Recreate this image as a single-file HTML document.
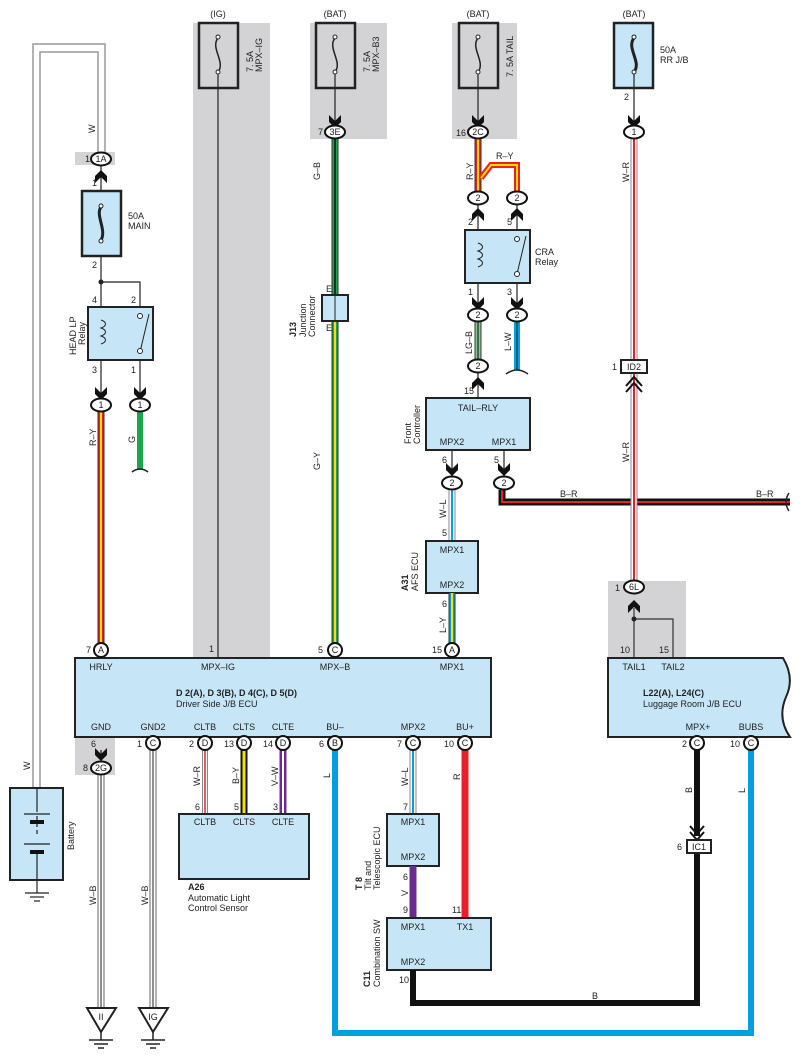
<!DOCTYPE html>
<html><head><meta charset="utf-8"><style>
html,body{margin:0;padding:0;background:#fff}
svg{display:block}
text{font-family:"Liberation Sans",sans-serif;font-size:9px;fill:#222}
.b{font-weight:bold}
</style></head><body>
<svg width="809" height="1062" viewBox="0 0 809 1062" xmlns="http://www.w3.org/2000/svg">
<defs>
<path id="ad" d="M-6,-9 L0,-3 L6,-9 L6,-2 L0,4 L-6,-2 Z" fill="#111"/>
<path id="au" d="M-6,9 L0,3 L6,9 L6,2 L0,-4 L-6,2 Z" fill="#111"/>
</defs>
<!-- gray regions -->
<rect x="193" y="23" width="77" height="635" fill="#d3d3d5"/>
<rect x="310" y="23" width="77" height="116" fill="#d3d3d5"/>
<rect x="452" y="23" width="65" height="116" fill="#d3d3d5"/>
<rect x="75" y="152" width="40" height="13" fill="#d3d3d5"/>
<rect x="75" y="737" width="40" height="38" fill="#d3d3d5"/>
<rect x="608" y="581" width="78" height="77" fill="#d3d3d5"/>

<!-- W battery wire -->
<path d="M33,788 V44 H105 V152" fill="none" stroke="#999" stroke-width="1.5"/>
<path d="M40,788 V52 H98 V152" fill="none" stroke="#999" stroke-width="1.5"/>
<text transform="translate(95,133) rotate(-90)">W</text>
<text transform="translate(30,770) rotate(-90)">W</text>

<!-- fuses top -->
<text x="218" y="17" text-anchor="middle">(IG)</text>
<text x="335" y="17" text-anchor="middle">(BAT)</text>
<text x="478" y="17" text-anchor="middle">(BAT)</text>
<text x="634" y="17" text-anchor="middle">(BAT)</text>
<g fill="none" stroke="#222" stroke-width="2.5">
<rect x="199" y="23" width="39" height="65"/>
<rect x="316" y="23" width="39" height="65"/>
<rect x="459" y="23" width="39" height="65"/>
<rect x="614" y="23" width="39" height="65" fill="#c6e6f8"/>
</g>
<g fill="none" stroke="#222" stroke-width="1.5">
<path d="M218,38 C210,48 226,62 218,72"/><path d="M335,38 C327,48 343,62 335,72"/>
<path d="M478,38 C470,48 486,62 478,72"/><path d="M634,38 C626,48 642,62 634,72" stroke-width="3"/>
</g>
<g fill="#fff" stroke="#222" stroke-width="1"><circle cx="218" cy="37" r="2"/><circle cx="218" cy="72" r="2"/><circle cx="335" cy="37" r="2"/><circle cx="335" cy="72" r="2"/><circle cx="478" cy="37" r="2"/><circle cx="478" cy="72" r="2"/><circle cx="634" cy="37" r="2"/><circle cx="634" cy="72" r="2"/></g>
<text transform="translate(253,72) rotate(-90)">7. 5A</text><text transform="translate(262,72) rotate(-90)">MPX–IG</text>
<text transform="translate(370,72) rotate(-90)">7. 5A</text><text transform="translate(379,72) rotate(-90)">MPX–B3</text>
<text transform="translate(513,77) rotate(-90)">7. 5A TAIL</text>
<text x="660" y="53">50A</text><text x="660" y="63">RR J/B</text>

<!-- IG wire -->
<line x1="218" y1="74" x2="218" y2="658" stroke="#222" stroke-width="1.2"/>
<text x="209" y="652">1</text>

<!-- B3 -->
<line x1="335" y1="74" x2="335" y2="125" stroke="#222" stroke-width="1.2"/>
<use href="#ad" x="335" y="124"/>
<line x1="335" y1="139" x2="335" y2="295" stroke="#333" stroke-width="7"/>
<line x1="335" y1="139" x2="335" y2="295" stroke="#1aa64a" stroke-width="5"/>
<line x1="335" y1="139" x2="335" y2="295" stroke="#111" stroke-width="1.5"/>
<line x1="335" y1="321" x2="335" y2="644" stroke="#333" stroke-width="7"/>
<line x1="335" y1="321" x2="335" y2="644" stroke="#1aa64a" stroke-width="5"/>
<line x1="335" y1="321" x2="335" y2="644" stroke="#f5e000" stroke-width="2"/>
<rect x="322" y="295" width="26" height="26" fill="#c6e6f8" stroke="#222" stroke-width="2"/>
<line x1="335" y1="295" x2="335" y2="321" stroke="#222"/>
<text x="326" y="292" font-size="8">E</text><text x="326" y="331" font-size="8">E</text>
<text transform="translate(320,180) rotate(-90)">G–B</text>
<text transform="translate(320,470) rotate(-90)">G–Y</text>
<text class="b" transform="translate(296,337) rotate(-90)">J13</text>
<text transform="translate(306,337) rotate(-90)">Junction</text>
<text transform="translate(315,337) rotate(-90)">Connector</text>

<!-- left main fuse / relay -->
<line x1="101" y1="166" x2="101" y2="405" stroke="#222" stroke-width="1.2"/>
<use href="#au" x="101" y="174"/>
<text x="92" y="186">1</text>
<rect x="82" y="191" width="39" height="65" fill="#c6e6f8" stroke="#222" stroke-width="2.5"/>
<path d="M101,207 C95,215 107,230 101,240" fill="none" stroke="#222" stroke-width="3"/>
<circle cx="101" cy="206" r="2" fill="#fff" stroke="#222"/><circle cx="101" cy="241" r="2" fill="#fff" stroke="#222"/>
<text x="128" y="219">50A</text><text x="128" y="229">MAIN</text>
<text x="92" y="268">2</text>
<circle cx="101" cy="282" r="2.5" fill="#222"/>
<path d="M101,282 H140 V405" fill="none" stroke="#222" stroke-width="1.2"/>
<text x="92" y="303">4</text><text x="131" y="303">2</text>
<rect x="88" y="307" width="65" height="53" fill="#c6e6f8" stroke="#222" stroke-width="2"/>
<path d="M101,320 c6,2 6,6 0,8 c6,2 6,6 0,8 c6,2 6,6 0,8" fill="none" stroke="#222"/>
<line x1="140" y1="316" x2="140" y2="352" stroke="#c6e6f8" stroke-width="3"/>
<line x1="140" y1="352" x2="149" y2="314" stroke="#222"/>
<circle cx="140" cy="316" r="2.5" fill="#fff" stroke="#222"/><circle cx="140" cy="351" r="2.5" fill="#fff" stroke="#222"/>
<text transform="translate(76,355) rotate(-90)">HEAD LP</text><text transform="translate(85,345) rotate(-90)">Relay</text>
<text x="92" y="373">3</text><text x="131" y="373">1</text>
<use href="#ad" x="101" y="396"/><use href="#ad" x="140" y="396"/>
<line x1="101" y1="412" x2="101" y2="644" stroke="#333" stroke-width="7"/>
<line x1="101" y1="412" x2="101" y2="644" stroke="#e8202a" stroke-width="5"/>
<line x1="101" y1="412" x2="101" y2="644" stroke="#f5e000" stroke-width="2"/>
<text transform="translate(96,446) rotate(-90)">R–Y</text>
<line x1="140" y1="412" x2="140" y2="470" stroke="#1aa64a" stroke-width="6"/>
<path d="M132,472 q8,-6 16,0" fill="none" stroke="#222" stroke-width="1.5"/>
<text transform="translate(135,443) rotate(-90)">G</text>

<!-- TAIL -->
<line x1="478" y1="74" x2="478" y2="125" stroke="#222" stroke-width="1.2"/>
<use href="#ad" x="478" y="124"/>
<text x="456" y="136">16</text>
<g fill="none" stroke-linejoin="miter">
<path d="M478,139 V191" stroke="#333" stroke-width="7"/>
<path d="M481,178 L491,165 H517 V191" stroke="#e8202a" stroke-width="6"/>
<path d="M478,139 V191" stroke="#e8202a" stroke-width="5"/>
<path d="M481,178 L491,165 H517 V191" stroke="#f5e000" stroke-width="2"/>
<path d="M478,139 V191" stroke="#f5e000" stroke-width="2"/>
</g>
<text transform="translate(473,180) rotate(-90)">R–Y</text>
<text x="496" y="159">R–Y</text>
<line x1="478" y1="205" x2="478" y2="308" stroke="#222" stroke-width="1.2"/>
<line x1="517" y1="205" x2="517" y2="308" stroke="#222" stroke-width="1.2"/>
<use href="#au" x="478" y="212"/><use href="#au" x="517" y="212"/>
<text x="468" y="225">2</text><text x="507" y="225">5</text>
<rect x="465" y="230" width="65" height="53" fill="#c6e6f8" stroke="#222" stroke-width="2"/>
<path d="M478,243 c6,2 6,6 0,8 c6,2 6,6 0,8 c6,2 6,6 0,8" fill="none" stroke="#222"/>
<line x1="517" y1="240" x2="517" y2="273" stroke="#c6e6f8" stroke-width="3"/>
<line x1="517" y1="274" x2="526" y2="236" stroke="#222"/>
<circle cx="517" cy="239" r="2.5" fill="#fff" stroke="#222"/><circle cx="517" cy="274" r="2.5" fill="#fff" stroke="#222"/>
<text x="535" y="255">CRA</text><text x="535" y="265">Relay</text>
<text x="468" y="295">1</text><text x="507" y="295">3</text>
<use href="#ad" x="478" y="306"/><use href="#ad" x="517" y="306"/>
<line x1="478" y1="322" x2="478" y2="360" stroke="#333" stroke-width="7"/>
<line x1="478" y1="322" x2="478" y2="360" stroke="#7ccf8e" stroke-width="5"/>
<line x1="478" y1="322" x2="478" y2="360" stroke="#222" stroke-width="1.2"/>
<line x1="517" y1="322" x2="517" y2="370" stroke="#00a0e0" stroke-width="6"/>
<line x1="517" y1="322" x2="517" y2="370" stroke="#222" stroke-width="1"/>
<path d="M506,374 q11,-8 22,0" fill="none" stroke="#222" stroke-width="1.5"/>
<text transform="translate(472,354) rotate(-90)">LG–B</text>
<text transform="translate(511,351) rotate(-90)">L–W</text>
<line x1="478" y1="373" x2="478" y2="398" stroke="#222" stroke-width="1.2"/>
<use href="#au" x="478" y="381"/>
<text x="464" y="394">15</text>
<rect x="426" y="398" width="104" height="52" fill="#c6e6f8" stroke="#222" stroke-width="2"/>
<text x="478" y="411" text-anchor="middle">TAIL–RLY</text>
<text x="452" y="445" text-anchor="middle">MPX2</text><text x="504" y="445" text-anchor="middle">MPX1</text>
<text transform="translate(411,444) rotate(-90)">Front</text><text transform="translate(420,444) rotate(-90)">Controller</text>
<line x1="452" y1="450" x2="452" y2="476" stroke="#222" stroke-width="1.2"/>
<line x1="504" y1="450" x2="504" y2="476" stroke="#222" stroke-width="1.2"/>
<use href="#ad" x="452" y="472"/><use href="#ad" x="504" y="472"/>
<text x="442" y="463">6</text><text x="494" y="463">5</text>
<!-- B-R -->
<path d="M502,490 V502 H790" fill="none" stroke="#111" stroke-width="7"/>
<path d="M502,490 V502 H790" fill="none" stroke="#e8202a" stroke-width="2"/>
<path d="M789,493 q-6,9 0,18" fill="none" stroke="#222" stroke-width="1.5"/>
<text x="560" y="497">B–R</text><text x="756" y="497">B–R</text>
<!-- W-L to AFS -->
<line x1="452" y1="490" x2="452" y2="541" stroke="#888" stroke-width="7"/>
<line x1="452" y1="490" x2="452" y2="541" stroke="#fff" stroke-width="5"/>
<line x1="452" y1="490" x2="452" y2="541" stroke="#00a0e0" stroke-width="2"/>
<text transform="translate(446,518) rotate(-90)">W–L</text>
<text x="442" y="536">5</text>
<rect x="426" y="541" width="52" height="52" fill="#c6e6f8" stroke="#222" stroke-width="2"/>
<text x="452" y="553" text-anchor="middle">MPX1</text><text x="452" y="588" text-anchor="middle">MPX2</text>
<text class="b" transform="translate(408,591) rotate(-90)">A31</text><text transform="translate(418,591) rotate(-90)">AFS ECU</text>
<text x="442" y="607">6</text>
<line x1="452" y1="593" x2="452" y2="643" stroke="#333" stroke-width="7"/>
<line x1="452" y1="593" x2="452" y2="643" stroke="#00a0e0" stroke-width="5"/>
<line x1="452" y1="593" x2="452" y2="643" stroke="#f5e000" stroke-width="2"/>
<text transform="translate(446,633) rotate(-90)">L–Y</text>

<!-- W-R right -->
<text x="624" y="100">2</text>
<line x1="634" y1="74" x2="634" y2="125" stroke="#222" stroke-width="1.2"/>
<use href="#ad" x="634" y="124"/>
<line x1="634" y1="139" x2="634" y2="580" stroke="#888" stroke-width="7"/>
<line x1="634" y1="139" x2="634" y2="580" stroke="#fff" stroke-width="5"/>
<line x1="634" y1="139" x2="634" y2="580" stroke="#e8202a" stroke-width="2"/>
<text transform="translate(629,182) rotate(-90)">W–R</text>
<text transform="translate(629,462) rotate(-90)">W–R</text>
<rect x="621" y="360" width="26" height="13" fill="#fff" stroke="#222" stroke-width="2"/>
<text x="634" y="370" text-anchor="middle">ID2</text><text x="612" y="370">1</text>
<path d="M626,386 L634,377 L642,386 M626,392 L634,383 L642,392" fill="none" stroke="#111" stroke-width="2"/>
<text x="615" y="591">1</text>
<use href="#au" x="634" y="604"/>
<path d="M634,608 V658 M634,619 H673 V658" fill="none" stroke="#333" stroke-width="1.2"/>
<circle cx="634" cy="619" r="2.5" fill="#222"/>
<text x="620" y="653">10</text><text x="659" y="653">15</text>

<!-- Driver ECU -->
<rect x="75" y="658" width="416" height="79" fill="#c6e6f8" stroke="#222" stroke-width="2"/>
<g text-anchor="middle">
<text x="101" y="670">HRLY</text><text x="218" y="670">MPX–IG</text><text x="335" y="670">MPX–B</text><text x="452" y="670">MPX1</text>
<text x="101" y="730">GND</text><text x="153" y="730">GND2</text><text x="205" y="730">CLTB</text><text x="244" y="730">CLTS</text><text x="283" y="730">CLTE</text><text x="335" y="730">BU–</text><text x="413" y="730">MPX2</text><text x="465" y="730">BU+</text>
</g>
<text class="b" x="176" y="696">D 2(A), D 3(B), D 4(C), D 5(D)</text>
<text x="176" y="707">Driver Side J/B ECU</text>

<!-- bottom wires -->
<line x1="101" y1="750" x2="101" y2="760" stroke="#222" stroke-width="1.2"/>
<use href="#ad" x="101" y="757"/>
<text x="91" y="747">6</text><text x="83" y="771">8</text>
<g stroke="#999" stroke-width="1.5">
<line x1="98" y1="775" x2="98" y2="1008"/><line x1="104" y1="775" x2="104" y2="1008"/><line x1="101" y1="775" x2="101" y2="1008" stroke="#222" stroke-width="1"/>
<line x1="150" y1="750" x2="150" y2="1008"/><line x1="156" y1="750" x2="156" y2="1008"/><line x1="153" y1="750" x2="153" y2="1008" stroke="#222" stroke-width="1"/>
</g>
<text transform="translate(96,905) rotate(-90)">W–B</text><text transform="translate(148,905) rotate(-90)">W–B</text>
<path d="M87,1008 H116 L101,1032 Z M139,1008 H168 L153,1032 Z" fill="#fff" stroke="#222" stroke-width="2"/>
<text x="101" y="1020" text-anchor="middle" font-size="8">II</text><text x="153" y="1020" text-anchor="middle" font-size="8">IG</text>
<g stroke="#222" stroke-width="1.5">
<line x1="101" y1="1032" x2="101" y2="1040"/><line x1="89" y1="1040" x2="113" y2="1040"/><line x1="94" y1="1044" x2="108" y2="1044"/><line x1="98" y1="1048" x2="104" y2="1048"/>
<line x1="153" y1="1032" x2="153" y2="1040"/><line x1="141" y1="1040" x2="165" y2="1040"/><line x1="146" y1="1044" x2="160" y2="1044"/><line x1="150" y1="1048" x2="156" y2="1048"/>
</g>
<!-- battery -->
<rect x="10" y="788" width="53" height="92" fill="#c6e6f8" stroke="#222" stroke-width="2"/>
<g stroke="#222" stroke-width="1.2">
<line x1="37" y1="788" x2="37" y2="812"/><line x1="24" y1="814" x2="50" y2="814"/>
<line x1="37" y1="816" x2="37" y2="835" stroke-dasharray="4,3"/>
<line x1="24" y1="844" x2="50" y2="844"/><line x1="37" y1="854" x2="37" y2="893"/>
<line x1="25" y1="893" x2="49" y2="893"/><line x1="30" y1="897" x2="44" y2="897"/><line x1="34" y1="901" x2="40" y2="901"/>
</g>
<rect x="30" y="820" width="14" height="4" fill="#111"/><rect x="30" y="850" width="14" height="4" fill="#111"/>
<text transform="translate(74,850) rotate(-90)">Battery</text>

<!-- A26 wires -->
<line x1="205" y1="750" x2="205" y2="814" stroke="#888" stroke-width="6"/><line x1="205" y1="750" x2="205" y2="814" stroke="#fff" stroke-width="4"/><line x1="205" y1="750" x2="205" y2="814" stroke="#e8202a" stroke-width="1.5"/>
<line x1="244" y1="750" x2="244" y2="814" stroke="#111" stroke-width="7"/><line x1="244" y1="750" x2="244" y2="814" stroke="#f5e000" stroke-width="3"/>
<line x1="283" y1="750" x2="283" y2="814" stroke="#6a2c91" stroke-width="7"/><line x1="283" y1="750" x2="283" y2="814" stroke="#fff" stroke-width="2"/>
<text transform="translate(200,786) rotate(-90)">W–R</text><text transform="translate(239,784) rotate(-90)">B–Y</text><text transform="translate(278,786) rotate(-90)">V–W</text>
<text x="195" y="810">6</text><text x="234" y="810">5</text><text x="273" y="810">3</text>
<rect x="179" y="814" width="130" height="65" fill="#c6e6f8" stroke="#222" stroke-width="2"/>
<text x="205" y="825" text-anchor="middle">CLTB</text><text x="244" y="825" text-anchor="middle">CLTS</text><text x="283" y="825" text-anchor="middle">CLTE</text>
<text class="b" x="188" y="890">A26</text><text x="188" y="901">Automatic Light</text><text x="188" y="911">Control Sensor</text>

<!-- BU- L -->
<path d="M335,750 V1033 H751 V750" fill="none" stroke="#00a0e0" stroke-width="6"/>
<text transform="translate(330,778) rotate(-90)">L</text>
<!-- W-L to T8 -->
<line x1="413" y1="750" x2="413" y2="814" stroke="#888" stroke-width="7"/><line x1="413" y1="750" x2="413" y2="814" stroke="#fff" stroke-width="5"/><line x1="413" y1="750" x2="413" y2="814" stroke="#00a0e0" stroke-width="2"/>
<text transform="translate(408,786) rotate(-90)">W–L</text><text x="403" y="810">7</text>
<rect x="387" y="814" width="52" height="52" fill="#c6e6f8" stroke="#222" stroke-width="2"/>
<text x="413" y="825" text-anchor="middle">MPX1</text><text x="413" y="860" text-anchor="middle">MPX2</text>
<text class="b" transform="translate(362,890) rotate(-90)">T 8</text><text transform="translate(371,890) rotate(-90)">Tilt and</text><text transform="translate(380,890) rotate(-90)">Telescopic ECU</text>
<line x1="413" y1="866" x2="413" y2="918" stroke="#6a2c91" stroke-width="7"/>
<text x="403" y="880">6</text><text transform="translate(408,896) rotate(-90)">V</text><text x="403" y="913">9</text>
<!-- R -->
<line x1="465" y1="750" x2="465" y2="918" stroke="#e8202a" stroke-width="7"/>
<text transform="translate(460,780) rotate(-90)">R</text><text x="452" y="913">11</text>
<rect x="387" y="918" width="104" height="52" fill="#c6e6f8" stroke="#222" stroke-width="2"/>
<text x="413" y="930" text-anchor="middle">MPX1</text><text x="465" y="930" text-anchor="middle">TX1</text><text x="413" y="965" text-anchor="middle">MPX2</text>
<text class="b" transform="translate(370,987) rotate(-90)">C11</text><text transform="translate(380,987) rotate(-90)">Combination SW</text>
<text x="399" y="983">10</text>
<path d="M413,970 V1003 H697 V850" fill="none" stroke="#111" stroke-width="6"/>
<text x="592" y="999">B</text>
<line x1="697" y1="750" x2="697" y2="836" stroke="#111" stroke-width="6"/>
<path d="M690,826 L697,834 L704,826 M690,832 L697,840 L704,832" fill="none" stroke="#111" stroke-width="2"/>
<rect x="687" y="840" width="24" height="13" fill="#fff" stroke="#222" stroke-width="2"/>
<text x="699" y="850" text-anchor="middle">IC1</text><text x="677" y="850">6</text>
<text transform="translate(692,793) rotate(-90)">B</text><text transform="translate(745,793) rotate(-90)">L</text>

<!-- Luggage ECU -->
<path d="M608,658 H783 Q795,678 786,697 Q777,718 790,737 H608 Z" fill="#c6e6f8" stroke="#222" stroke-width="2"/>
<text x="634" y="670" text-anchor="middle">TAIL1</text><text x="673" y="670" text-anchor="middle">TAIL2</text>
<text class="b" x="643" y="696">L22(A), L24(C)</text><text x="643" y="707">Luggage Room J/B ECU</text>
<text x="698" y="730" text-anchor="middle">MPX+</text><text x="751" y="730" text-anchor="middle">BUBS</text>

<!-- pin circles -->
<g fill="#fff" stroke="#111" stroke-width="2">
<ellipse cx="101" cy="159" rx="10" ry="6.5"/><ellipse cx="335" cy="132" rx="10" ry="6.5"/><ellipse cx="478" cy="132" rx="10" ry="6.5"/><ellipse cx="634" cy="132" rx="10" ry="6.5"/>
<ellipse cx="101" cy="405" rx="10" ry="6.5"/><ellipse cx="140" cy="405" rx="10" ry="6.5"/>
<ellipse cx="478" cy="198" rx="10" ry="6.5"/><ellipse cx="517" cy="198" rx="10" ry="6.5"/>
<ellipse cx="478" cy="315" rx="10" ry="6.5"/><ellipse cx="517" cy="315" rx="10" ry="6.5"/><ellipse cx="478" cy="366" rx="10" ry="6.5"/>
<ellipse cx="452" cy="483" rx="10" ry="6.5"/><ellipse cx="504" cy="483" rx="10" ry="6.5"/>
<ellipse cx="101" cy="768" rx="10" ry="6.5"/><ellipse cx="634" cy="587" rx="10" ry="6.5"/>
<circle cx="101" cy="650" r="7"/><circle cx="335" cy="650" r="7"/><circle cx="452" cy="650" r="7"/>
<circle cx="153" cy="743" r="7"/><circle cx="205" cy="743" r="7"/><circle cx="244" cy="743" r="7"/><circle cx="283" cy="743" r="7"/><circle cx="335" cy="743" r="7"/><circle cx="413" cy="743" r="7"/><circle cx="465" cy="743" r="7"/>
<circle cx="697" cy="743" r="7"/><circle cx="751" cy="743" r="7"/>
</g>
<g text-anchor="middle" font-size="8">
<text x="101" y="162">1A</text><text x="335" y="135">3E</text><text x="478" y="135">2C</text><text x="634" y="135">1</text>
<text x="101" y="408">1</text><text x="140" y="408">1</text><text x="478" y="201">2</text><text x="517" y="201">2</text>
<text x="478" y="318">2</text><text x="517" y="318">2</text><text x="478" y="369">2</text><text x="452" y="486">2</text><text x="504" y="486">2</text>
<text x="101" y="771">2G</text><text x="634" y="590">6L</text>
<text x="101" y="653">A</text><text x="335" y="653">C</text><text x="452" y="653">A</text>
<text x="153" y="746">C</text><text x="205" y="746">D</text><text x="244" y="746">D</text><text x="283" y="746">D</text><text x="335" y="746">B</text><text x="413" y="746">C</text><text x="465" y="746">C</text><text x="697" y="746">C</text><text x="751" y="746">C</text>
</g>
<text x="85" y="162">1</text><text x="318" y="135">7</text>
<text x="86" y="653">7</text><text x="318" y="653">5</text><text x="432" y="653">15</text>
<text x="137" y="747">1</text><text x="189" y="747">2</text><text x="224" y="747">13</text><text x="263" y="747">14</text><text x="319" y="747">6</text><text x="397" y="747">7</text><text x="444" y="747">10</text><text x="682" y="747">2</text><text x="730" y="747">10</text>
</svg>
</body></html>
